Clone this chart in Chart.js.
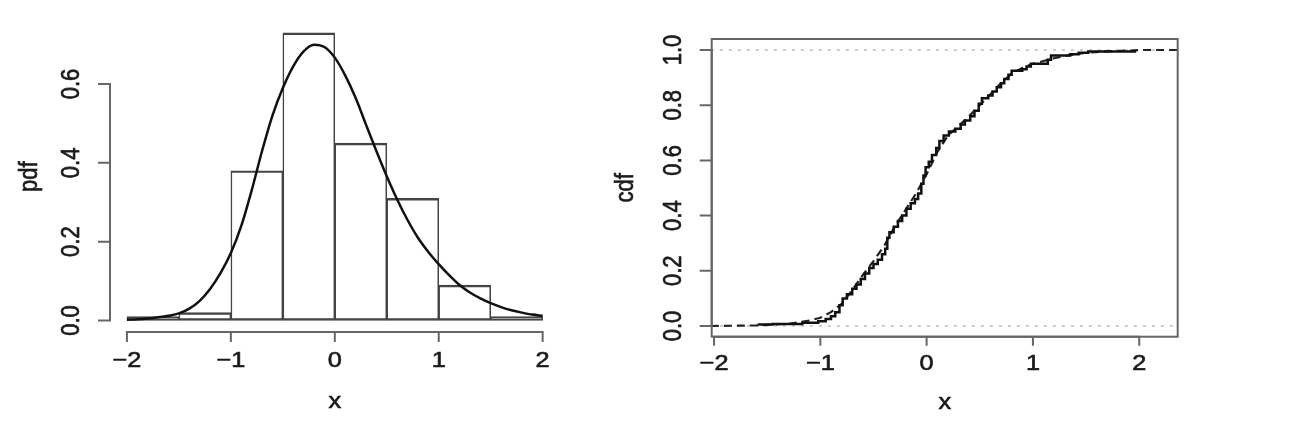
<!DOCTYPE html>
<html><head><meta charset="utf-8">
<script src="https://cdn.jsdelivr.net/npm/chart.js@4.4.0/dist/chart.umd.min.js"></script>
<style>
html,body{margin:0;padding:0;background:#fff;width:1314px;height:438px;overflow:hidden;}
#l{position:absolute;left:0;top:0;}
#r{position:absolute;left:590px;top:0;}
</style></head><body>
<canvas id="l" width="590" height="438"></canvas>
<canvas id="r" width="724" height="438"></canvas>
<script>
// ---- data ----
const binCenters = [-1.75, -1.25, -0.75, -0.25, 0.25, 0.75, 1.25, 1.75];
const binDensity = [0.01, 0.02, 0.38, 0.73, 0.45, 0.31, 0.09, 0.01];

const pdfX = [-2.0,-1.9,-1.8,-1.7,-1.6,-1.5,-1.4,-1.3,-1.2,-1.1,-1.0,-0.9,-0.8,-0.7,-0.6,-0.5,-0.4,-0.3,-0.2,-0.1,0.0,0.1,0.2,0.3,0.4,0.5,0.6,0.7,0.8,0.9,1.0,1.1,1.2,1.3,1.4,1.5,1.6,1.7,1.8,1.9,2.0];
const pdfY = [0.002,0.003,0.005,0.008,0.012,0.018,0.03,0.05,0.08,0.12,0.171,0.24,0.33,0.43,0.52,0.59,0.645,0.683,0.70,0.694,0.667,0.622,0.565,0.497,0.43,0.366,0.307,0.255,0.21,0.174,0.143,0.115,0.09,0.071,0.056,0.044,0.034,0.026,0.02,0.015,0.012];

const ecdfX = [-1.59,-1.45,-1.17,-1.02,-0.95,-0.9,-0.86,-0.82,-0.79,-0.75,-0.70,-0.66,-0.62,-0.58,-0.54,-0.50,-0.46,-0.42,-0.39,-0.37,-0.35,-0.31,-0.27,-0.23,-0.19,-0.15,-0.11,-0.08,-0.05,-0.03,-0.01,0.02,0.05,0.09,0.12,0.16,0.21,0.27,0.32,0.36,0.41,0.45,0.49,0.52,0.58,0.62,0.66,0.70,0.73,0.77,0.80,0.90,0.94,0.98,1.14,1.17,1.35,1.43,1.52,1.96];
const ecdfY = [0.005,0.007,0.012,0.017,0.025,0.035,0.05,0.075,0.10,0.115,0.135,0.15,0.17,0.19,0.21,0.225,0.24,0.26,0.28,0.32,0.34,0.36,0.38,0.40,0.425,0.445,0.46,0.48,0.515,0.545,0.575,0.595,0.62,0.645,0.67,0.69,0.705,0.715,0.73,0.745,0.76,0.78,0.805,0.825,0.835,0.85,0.865,0.88,0.895,0.91,0.925,0.93,0.94,0.95,0.965,0.98,0.985,0.99,0.995,1.0];

const cdfX = [-2.03,-1.6,-1.3,-1.1,-1.0,-0.9,-0.8,-0.7,-0.6,-0.5,-0.4,-0.3,-0.2,-0.1,0.0,0.1,0.2,0.3,0.4,0.5,0.6,0.7,0.8,0.9,1.0,1.1,1.2,1.3,1.4,1.5,1.7,1.9,2.0,2.37];
const cdfY = [0.0,0.002,0.008,0.02,0.03,0.05,0.08,0.13,0.185,0.235,0.29,0.36,0.42,0.48,0.55,0.63,0.69,0.725,0.76,0.80,0.84,0.88,0.915,0.935,0.95,0.96,0.97,0.978,0.985,0.99,0.995,0.998,1.0,1.0];

const refLevels = [0, 1];
const leftXTicks = [-2, -1, 0, 1, 2];
const leftYTicks = [0, 0.2, 0.4, 0.6];
const rightXTicks = [-2, -1, 0, 1, 2];
const rightYTicks = [0, 0.2, 0.4, 0.6, 0.8, 1.0];

const fmtX = v => v < 0 ? '\u2212' + Math.abs(v) : String(v);
const fmtY = v => v.toFixed(1);

// ---- R-style axes plugin ----
const SX = 1.15;
const FONT = '"Liberation Sans", Arial, sans-serif';
function drawText(ctx, txt, x, y, rot, size) {
  ctx.save();
  ctx.translate(x, y);
  ctx.scale(SX, 1);
  if (rot) ctx.rotate(-Math.PI / 2);
  ctx.font = size + 'px ' + FONT;
  ctx.textAlign = 'center';
  ctx.textBaseline = 'middle';
  ctx.fillStyle = '#1a1a1a';
  ctx.strokeStyle = '#1a1a1a';
  ctx.lineWidth = 0.6;
  ctx.fillText(txt, 0, 0);
  ctx.strokeText(txt, 0, 0);
  ctx.restore();
}
const rAxes = {
  id: 'rAxes',
  afterDraw(chart, args, o) {
    const ctx = chart.ctx, a = chart.chartArea;
    const xs = chart.scales.x, ys = chart.scales.y;
    ctx.save();
    ctx.strokeStyle = '#666';
    ctx.lineWidth = 2;
    ctx.lineCap = 'butt';
    if (o.box) {
      ctx.strokeRect(a.left, a.top, a.right - a.left, a.bottom - a.top);
    }
    const x0 = xs.getPixelForValue(o.xTicks[0]), x1 = xs.getPixelForValue(o.xTicks[o.xTicks.length - 1]);
    ctx.beginPath();
    ctx.moveTo(x0 - 1, a.bottom); ctx.lineTo(x1 + 1, a.bottom);
    o.xTicks.forEach(v => { const p = xs.getPixelForValue(v); ctx.moveTo(p, a.bottom); ctx.lineTo(p, a.bottom + o.xTickLen); });
    const y0 = ys.getPixelForValue(o.yTicks[0]), y1 = ys.getPixelForValue(o.yTicks[o.yTicks.length - 1]);
    ctx.moveTo(a.left, y0 + 1); ctx.lineTo(a.left, y1 - 1);
    o.yTicks.forEach(v => { const p = ys.getPixelForValue(v); ctx.moveTo(a.left, p); ctx.lineTo(a.left - o.yTickLen, p); });
    ctx.stroke();
    ctx.restore();
    o.xTicks.forEach(v => drawText(ctx, fmtX(v), xs.getPixelForValue(v), a.bottom + o.xLabOff, false, o.size));
    o.yTicks.forEach(v => drawText(ctx, fmtY(v), a.left - o.yLabOff, ys.getPixelForValue(v), true, o.size));
    drawText(ctx, o.xTitle, (a.left + a.right) / 2, a.bottom + o.xTitleOff, false, o.size);
    drawText(ctx, o.yTitle, a.left - o.yTitleOff, (a.top + a.bottom) / 2, true, o.size);
  }
};

const pts = (xa, ya) => xa.map((x, i) => ({x, y: ya[i]}));

// ---- left: histogram + density ----
new Chart(document.getElementById('l'), {
  type: 'bar',
  data: {
    datasets: [
      { type: 'line', data: pts(pdfX, pdfY), borderColor: '#111', borderWidth: 2.5,
        pointRadius: 0, cubicInterpolationMode: 'monotone', order: 0 },
      { type: 'bar', data: pts(binCenters, binDensity), backgroundColor: 'rgba(0,0,0,0)',
        borderColor: '#444', borderSkipped: false, barPercentage: 1, categoryPercentage: 1, order: 1,
        borderWidth: {top: 1.8, bottom: 1.8, left: 0.9, right: 0.9} }
    ]
  },
  options: {
    responsive: false, animation: false, devicePixelRatio: 1,
    layout: { padding: { left: 110, right: 30.4, top: 21.3, bottom: 106 } },
    plugins: { legend: { display: false }, tooltip: { enabled: false },
      rAxes: { box: false, xTicks: leftXTicks, yTicks: leftYTicks, xTickLen: 10, yTickLen: 12,
        xLabOff: 29, yLabOff: 38, xTitleOff: 70, yTitleOff: 80, xTitle: 'x', yTitle: 'pdf', size: 22 } },
    scales: {
      x: { type: 'linear', min: -2.163, max: 2.163, display: false, offset: false },
      y: { min: -0.0292, max: 0.7592, display: false }
    }
  },
  plugins: [rAxes]
});

// ---- right: ecdf ----
new Chart(document.getElementById('r'), {
  type: 'line',
  data: {
    datasets: [
      { data: pts(ecdfX, ecdfY), stepped: true, borderColor: '#111', borderWidth: 2.5, pointRadius: 0, order: 0 },
      { data: pts(cdfX, cdfY), borderColor: '#222', borderWidth: 2.2, borderDash: [8, 5], pointRadius: 0, order: 1 },
      ...refLevels.map(l => ({ data: [{x: -2.03, y: l}, {x: 2.37, y: l}], borderColor: '#cdcdcd', borderWidth: 2,
        borderDash: [3, 6], pointRadius: 0, order: 2 }))
    ]
  },
  options: {
    responsive: false, animation: false, devicePixelRatio: 1,
    layout: { padding: { left: 121.7, right: 136.3, top: 39, bottom: 101.3 } },
    plugins: { legend: { display: false }, tooltip: { enabled: false },
      rAxes: { box: true, xTicks: rightXTicks, yTicks: rightYTicks, xTickLen: 9, yTickLen: 12,
        xLabOff: 27.5, yLabOff: 38, xTitleOff: 66, yTitleOff: 86, xTitle: 'x', yTitle: 'cdf', size: 22 } },
    scales: {
      x: { type: 'linear', min: -2.022, max: 2.362, display: false },
      y: { min: -0.0388, max: 1.0399, display: false }
    }
  },
  plugins: [rAxes]
});
</script>
</body></html>
